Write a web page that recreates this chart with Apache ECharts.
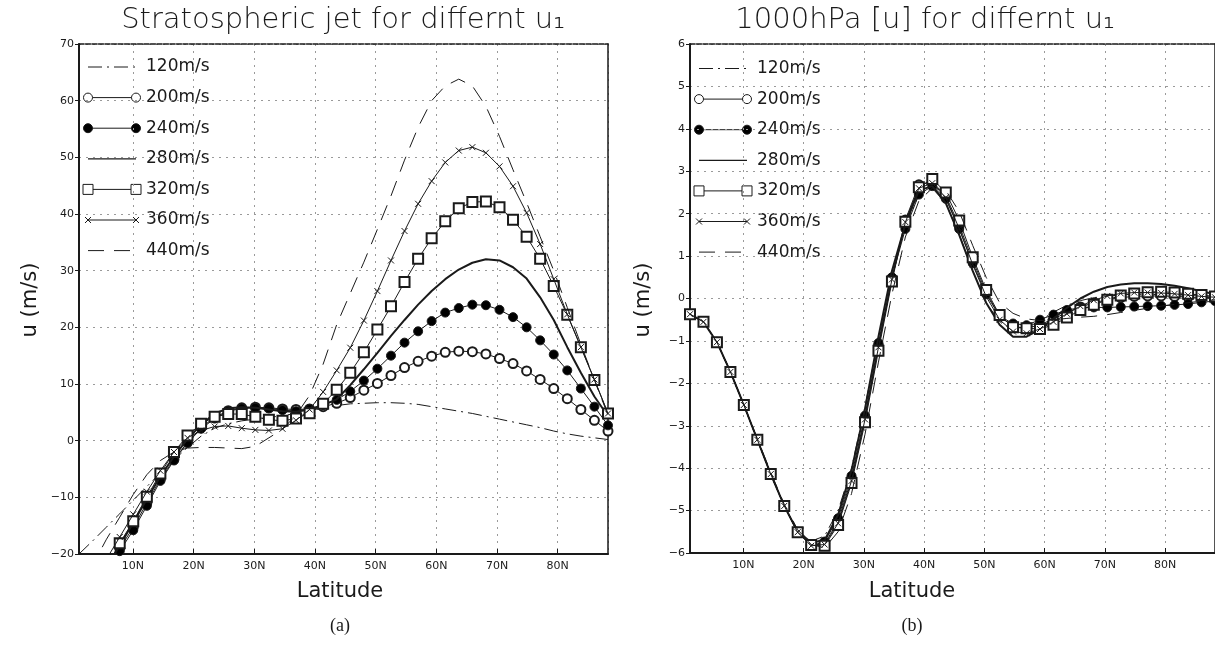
<!DOCTYPE html>
<html><head><meta charset="utf-8">
<script src="https://cdn.jsdelivr.net/npm/echarts@6/dist/echarts.min.js"></script>
<style>html,body{margin:0;padding:0;background:#fff}#c{width:1215px;height:646px}</style>
</head><body><div id="c"></div>
<script>
// ---------------- DATA ----------------
const latitudes = [1.12,3.36,5.59,7.83,10.06,12.30,14.53,16.77,19.00,21.24,23.47,25.71,27.94,30.18,32.41,34.65,36.88,39.12,41.35,43.59,45.82,48.06,50.29,52.53,54.76,57.00,59.23,61.47,63.70,65.94,68.17,70.41,72.64,74.88,77.11,79.35,81.58,83.82,86.05,88.29];
const seriesNames = ['120m/s','200m/s','240m/s','280m/s','320m/s','360m/s','440m/s'];
const xTickValues = [10,20,30,40,50,60,70,80];
const xTickLabels = ['10N','20N','30N','40N','50N','60N','70N','80N'];

// (a) Stratospheric jet
const strat120 = [-20,-17.7,-15.3,-12.9,-10.5,-8.1,-5.7,-3.4,-1.2,0.8,2.2,3.0,3.5,3.8,4.1,4.4,4.8,5.3,5.8,6.2,6.5,6.6,6.7,6.7,6.6,6.4,6.0,5.6,5.2,4.8,4.3,3.8,3.3,2.8,2.3,1.7,1.2,0.8,0.5,0.2];
const strat200 = [-32,-27.5,-23,-19.0,-15.3,-11.0,-6.8,-3.3,-0.3,2.3,4.1,5.3,5.8,5.9,5.8,5.6,5.5,5.6,6.0,6.6,7.6,8.9,10.1,11.5,12.9,14.0,14.9,15.6,15.8,15.7,15.3,14.5,13.6,12.3,10.8,9.2,7.4,5.5,3.6,1.7];
const strat240 = [-33,-28,-23.5,-19.5,-15.8,-11.5,-7.1,-3.5,-0.4,2.1,3.9,5.2,5.7,5.8,5.7,5.4,5.2,5.6,6.3,7.2,8.7,10.6,12.7,15.0,17.3,19.3,21.1,22.6,23.4,24.0,23.9,23.1,21.8,20.0,17.7,15.2,12.4,9.2,6.0,2.7];
const strat280 = [-32,-27,-22.5,-18.5,-14.5,-10.3,-6.3,-2.8,0.3,2.8,4.8,5.7,5.9,5.8,5.5,5.2,5.1,5.5,6.3,7.3,9.8,12.6,15.5,18.5,21.3,24.0,26.4,28.5,30.2,31.4,32.0,31.8,30.6,28.6,25.3,21.3,16.5,12.0,7.8,4.3];
const strat320 = [-31,-27,-22.5,-18.1,-14.2,-9.9,-5.8,-2.0,0.9,3.0,4.2,4.7,4.7,4.2,3.7,3.5,3.9,4.85,6.5,9.0,12.0,15.6,19.6,23.7,28.0,32.1,35.7,38.7,41.0,42.1,42.2,41.2,39.0,36.0,32.1,27.3,22.2,16.5,10.7,4.8];
const strat360 = [-30,-25.5,-21,-17,-13,-9,-5.3,-2,0.5,1.8,2.5,2.6,2.2,1.9,1.8,2.1,3.6,5.5,8.6,12.4,16.4,21.2,26.4,31.8,37.0,41.8,45.8,49.1,51.2,51.8,50.8,48.4,44.9,40.2,34.7,28.5,22.3,16.5,10.8,4.8];
const strat440 = [-27,-22,-17.5,-13.5,-9.5,-6,-3.5,-2,-1.3,-1.2,-1.2,-1.3,-1.4,-1.0,0.5,2.0,4.5,8.0,13.5,20.5,26,31.5,37.3,43.2,49.5,55.3,60,62.6,63.8,62.6,59,53.7,47.8,42,36,30,23.5,17,10.7,4.5];

// (b) 1000hPa [u]
const sfc120 = [-0.37,-0.55,-1.03,-1.73,-2.51,-3.33,-4.14,-4.89,-5.48,-5.72,-5.6,-5.0,-4.0,-2.55,-0.95,0.62,1.72,2.45,2.6,2.25,1.5,0.65,-0.1,-0.55,-0.75,-0.7,-0.52,-0.32,-0.16,-0.05,0.02,0.06,0.08,0.1,0.1,0.09,0.07,0.05,0.03,0.02];
const sfc200 = [-0.37,-0.55,-1.03,-1.73,-2.51,-3.33,-4.14,-4.89,-5.51,-5.82,-5.78,-5.25,-4.25,-2.82,-1.12,0.48,1.85,2.68,2.75,2.42,1.72,0.9,0.15,-0.42,-0.66,-0.70,-0.62,-0.48,-0.33,-0.2,-0.1,-0.03,0.02,0.05,0.06,0.06,0.05,0.03,0.01,0.0];
const sfc240 = [-0.37,-0.55,-1.03,-1.73,-2.51,-3.33,-4.14,-4.89,-5.51,-5.83,-5.73,-5.18,-4.18,-2.76,-1.05,0.50,1.64,2.45,2.65,2.35,1.64,0.83,0.10,-0.42,-0.59,-0.63,-0.50,-0.38,-0.27,-0.22,-0.21,-0.21,-0.20,-0.19,-0.18,-0.17,-0.15,-0.13,-0.09,-0.06];
const sfc280 = [-0.37,-0.55,-1.03,-1.73,-2.51,-3.33,-4.14,-4.89,-5.5,-5.75,-5.7,-5.1,-4.05,-2.6,-0.9,0.65,1.75,2.55,2.65,2.25,1.5,0.65,-0.1,-0.62,-0.9,-0.9,-0.72,-0.47,-0.22,0.0,0.16,0.27,0.33,0.36,0.36,0.34,0.3,0.24,0.17,0.1];
const sfc320 = [-0.37,-0.55,-1.03,-1.73,-2.51,-3.33,-4.14,-4.89,-5.51,-5.81,-5.83,-5.34,-4.35,-2.92,-1.23,0.40,1.81,2.62,2.82,2.50,1.84,0.97,0.20,-0.39,-0.68,-0.70,-0.72,-0.62,-0.45,-0.27,-0.15,-0.03,0.07,0.12,0.15,0.16,0.14,0.11,0.08,0.05];
const sfc360 = [-0.37,-0.55,-1.03,-1.73,-2.51,-3.33,-4.14,-4.89,-5.51,-5.83,-5.8,-5.3,-4.3,-2.85,-1.15,0.45,1.8,2.6,2.72,2.38,1.65,0.8,0.05,-0.5,-0.78,-0.82,-0.72,-0.55,-0.36,-0.18,-0.04,0.06,0.12,0.14,0.14,0.13,0.11,0.08,0.05,0.03];
const sfc440 = [-0.37,-0.55,-1.03,-1.72,-2.5,-3.3,-4.1,-4.85,-5.45,-5.8,-5.88,-5.5,-4.6,-3.2,-1.5,0.1,1.45,2.3,2.6,2.55,2.05,1.25,0.5,-0.1,-0.35,-0.48,-0.52,-0.5,-0.47,-0.44,-0.42,-0.38,-0.33,-0.28,-0.23,-0.18,-0.14,-0.1,-0.06,-0.03];

const stratSeries = [strat120, strat200, strat240, strat280, strat320, strat360, strat440];
const sfcSeries = [sfc120, sfc200, sfc240, sfc280, sfc320, sfc360, sfc440];

// ---------------- STYLE / LAYOUT ----------------
const INK = '#1a1a1a';
const FONT = 'DejaVu Sans';
const styles = [
  {symbol: 'none', dash: [14, 5, 2, 5], width: 1},
  {symbol: 'emptyCircle', size: 9, width: 1},
  {symbol: 'circle', size: 9, width: 1},
  {symbol: 'none', width: 2},
  {symbol: 'emptyRect', size: 10, width: 1},
  {symbol: 'path://M0,0L10,10M10,0L0,10', size: 6, width: 1},
  {symbol: 'none', dash: [16, 10], width: 1}
];
const G = [
  {left: 79, top: 44, width: 529, height: 510},
  {left: 690, top: 44, width: 530, height: 509}
];

function xAxisPair(gi) {
  const base = {
    type: 'value', gridIndex: gi, min: latitudes[0], max: latitudes[latitudes.length - 1],
    splitNumber: 9
  };
  return [
    Object.assign({}, base, {
      position: 'bottom',
      axisLine: {show: true, onZero: false, lineStyle: {color: INK, width: 2}},
      axisTick: {show: true, inside: true, length: 5, lineStyle: {color: INK}},
      axisLabel: {
        show: true, color: INK, fontFamily: FONT, fontSize: 11, margin: 7,
        showMinLabel: false, showMaxLabel: false,
        formatter: v => { const i = xTickValues.findIndex(t => Math.abs(t - v) < 1e-6); return i >= 0 ? xTickLabels[i] : ''; }
      },
      splitLine: {show: true, lineStyle: {color: '#9a9a9a', width: 1, type: [2, 5]}}
    }),
    Object.assign({}, base, {
      position: 'top',
      axisLine: {show: true, onZero: false, lineStyle: {color: INK, width: 1.5, type: [5, 1.5]}},
      axisTick: {show: false}, axisLabel: {show: false}, splitLine: {show: false}
    })
  ];
}
function yAxisPair(gi, min, max, interval) {
  const base = {type: 'value', gridIndex: gi, min, max, interval};
  return [
    Object.assign({}, base, {
      position: 'left',
      axisLine: {show: true, onZero: false, lineStyle: {color: INK, width: 2}},
      axisTick: {show: true, inside: false, length: 4, lineStyle: {color: INK}},
      axisLabel: {color: INK, fontFamily: FONT, fontSize: 11, margin: 5,
        formatter: v => (v < 0 ? '\u2212' + Math.abs(v) : String(v))},
      splitLine: {show: true, lineStyle: {color: '#9a9a9a', width: 1, type: [2, 5]}}
    }),
    Object.assign({}, base, {
      position: 'right',
      axisLine: {show: true, onZero: false, lineStyle: {color: INK, width: 1.5}},
      axisTick: {show: false}, axisLabel: {show: false}, splitLine: {show: false}
    })
  ];
}

function makeSeries(valuesList, xi, yi) {
  return valuesList.map((vals, i) => {
    const st = styles[i];
    return {
      name: seriesNames[i] + (xi ? ' b' : ' a'),
      type: 'line', xAxisIndex: xi, yAxisIndex: yi,
      data: latitudes.map((lat, k) => [lat, vals[k]]),
      symbol: st.symbol, symbolSize: st.size || 0, showSymbol: st.symbol !== 'none', showAllSymbol: true,
      clip: true, smooth: false,
      lineStyle: {color: INK, width: st.width, type: st.dash || 'solid'},
      itemStyle: {color: st.symbol === 'circle' ? '#000' : INK, borderColor: INK, borderWidth: 1},
      emphasis: {disabled: true}, z: 3 + i
    };
  });
}

function legendGraphic(gridLeft, firstY) {
  const els = [];
  const gap = 30.6;
  seriesNames.forEach((name, i) => {
    const st = styles[i];
    const y = firstY + i * gap;
    const x1 = gridLeft + 9, x2 = gridLeft + 57;
    els.push({type: 'line', silent: true, shape: {x1, y1: y, x2, y2: y},
      style: {stroke: INK, lineWidth: st.width === 2 ? 1.3 : st.width, lineDash: st.dash || null}});
    [x1, x2].forEach(cx => {
      if (st.symbol === 'emptyCircle' || st.symbol === 'circle') {
        els.push({type: 'circle', silent: true, shape: {cx, cy: y, r: 4.5},
          style: {fill: st.symbol === 'circle' ? '#000' : '#fff', stroke: INK, lineWidth: 1}});
      } else if (st.symbol === 'emptyRect') {
        els.push({type: 'rect', silent: true, shape: {x: cx - 5, y: y - 5, width: 10, height: 10},
          style: {fill: '#fff', stroke: INK, lineWidth: 1}});
      } else if (st.symbol.indexOf('path://') === 0) {
        els.push({type: 'line', silent: true, shape: {x1: cx - 3, y1: y - 3, x2: cx + 3, y2: y + 3}, style: {stroke: INK, lineWidth: 1}});
        els.push({type: 'line', silent: true, shape: {x1: cx + 3, y1: y - 3, x2: cx - 3, y2: y + 3}, style: {stroke: INK, lineWidth: 1}});
      }
    });
    els.push({type: 'text', silent: true, x: gridLeft + 67, y,
      style: {text: name, fill: INK, fontFamily: FONT, fontSize: 17, verticalAlign: 'middle', align: 'left'}});
  });
  return els;
}

function label(text, x, y, size, opts) {
  return Object.assign({type: 'text', silent: true, x, y,
    style: Object.assign({text, fill: INK, fontFamily: FONT, fontSize: size, align: 'center', verticalAlign: 'middle'}, (opts && opts.style) || {})},
    (opts && opts.el) || {});
}

const chart = echarts.init(document.getElementById('c'), null, {renderer: 'canvas'});
const xa = xAxisPair(0).concat(xAxisPair(1));
const ya = yAxisPair(0, -20, 70, 10).concat(yAxisPair(1, -6, 6, 1));
chart.setOption({
  animation: false,
  backgroundColor: '#fff',
  grid: G.map(g => Object.assign({containLabel: false}, g)),
  xAxis: xa,
  yAxis: ya,
  series: makeSeries(stratSeries, 0, 0).concat(makeSeries(sfcSeries, 2, 2)),
  graphic: [].concat(
    legendGraphic(G[0].left, 67),
    legendGraphic(G[1].left, 68.5),
    [
      label('Stratospheric jet for differnt u\u2081', 343, 20, 29, {style: {fontWeight: 200}}),
      label('1000hPa [u] for differnt u\u2081', 925, 20, 29, {style: {fontWeight: 200}}),
      label('u (m/s)', 31, 300, 21, {el: {rotation: Math.PI / 2}}),
      label('u (m/s)', 644, 300, 21, {el: {rotation: Math.PI / 2}}),
      label('Latitude', 340, 592, 21),
      label('Latitude', 912, 592, 21),
      label('(a)', 340, 626, 18, {style: {fontFamily: 'Liberation Serif'}}),
      label('(b)', 912, 626, 18, {style: {fontFamily: 'Liberation Serif'}})
    ]
  )
});
</script>
</body></html>
